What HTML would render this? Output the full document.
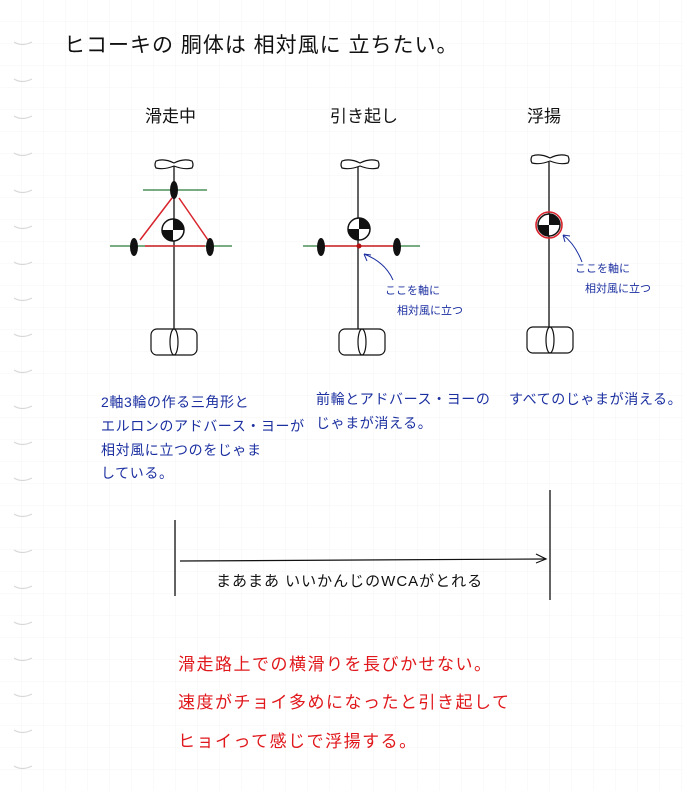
<!DOCTYPE html>
<html><head><meta charset="utf-8"><style>
html,body{margin:0;padding:0;background:#fff}
svg{display:block}
text{font-family:"Liberation Sans","Noto Sans CJK JP",sans-serif}
</style></head><body>
<svg width="683" height="791" viewBox="0 0 683 791" xmlns="http://www.w3.org/2000/svg">
<defs>
<pattern id="g" width="22" height="22" patternUnits="userSpaceOnUse">
<path d="M22 0V22H0" fill="none" stroke="#f5f5f5" stroke-width="1"/>
</pattern>
<g id="cg">
<circle r="11" fill="#fff" stroke="#111" stroke-width="1.5"/>
<path d="M0 0V-11A11 11 0 0 1 11 0Z" fill="#111"/>
<path d="M0 0V11A11 11 0 0 1 -11 0Z" fill="#111"/>
</g>
<g id="prop" fill="#fff" stroke="#111" stroke-width="1.2">
<path d="M-18 -4Q-10 -7 0 -2Q10 -7 18 -4Q20 0 18 3Q10 5 0 1Q-10 5 -18 3Q-20 0 -18 -4Z"/>
</g>
<g id="tail" fill="#fff" stroke="#111" stroke-width="1.2">
<rect x="-23" y="-13" width="46" height="26" rx="6"/>
<ellipse cx="0" cy="0" rx="4" ry="13"/>
</g>
</defs>
<rect width="683" height="791" fill="url(#g)"/>
<g fill="none" stroke="#d8d8d8" stroke-width="1.2">
<path d="M14 42q8 5 18 0M14 79q8 5 18 0M14 116q8 5 18 0M14 153q8 5 18 0M14 190q8 5 18 0M14 226q8 5 18 0M14 262q8 5 18 0M14 298q8 5 18 0M14 334q8 5 18 0M14 370q8 5 18 0M14 406q8 5 18 0M14 442q8 5 18 0M14 478q8 5 18 0M14 514q8 5 18 0M14 550q8 5 18 0M14 586q8 5 18 0M14 622q8 5 18 0M14 658q8 5 18 0M14 694q8 5 18 0M14 730q8 5 18 0M14 766q8 5 18 0"/>
</g>

<text x="64" y="52" font-size="21" fill="#111" letter-spacing="1">ヒコーキの 胴体は 相対風に 立ちたい。</text>
<text x="145" y="122" font-size="17" fill="#111">滑走中</text>
<text x="330" y="122" font-size="17" fill="#111">引き起し</text>
<text x="527" y="122" font-size="17" fill="#111">浮揚</text>

<!-- diagram 1 -->
<g>
<line x1="174" y1="166" x2="174" y2="340" stroke="#111" stroke-width="1.3"/>
<line x1="143" y1="190" x2="207" y2="190" stroke="#2a7a3a" stroke-width="1.2"/>
<line x1="110" y1="246" x2="232" y2="246" stroke="#2a7a3a" stroke-width="1.2"/>
<path d="M140 240L172 198M179 198L208 240M145 246H205" stroke="#d8242c" stroke-width="1.5" fill="none"/>
<ellipse cx="174" cy="190" rx="4" ry="9" fill="#111"/>
<ellipse cx="134" cy="247" rx="4" ry="9" fill="#111"/>
<ellipse cx="210" cy="247" rx="4" ry="9" fill="#111"/>
<use href="#cg" x="173" y="230"/>
<use href="#prop" x="174" y="165"/>
<use href="#tail" x="174" y="342"/>
</g>
<!-- diagram 2 -->
<g>
<line x1="358" y1="166" x2="358" y2="340" stroke="#111" stroke-width="1.3"/>
<line x1="303" y1="246" x2="420" y2="246" stroke="#2a7a3a" stroke-width="1.2"/>
<line x1="322" y1="246" x2="395" y2="246" stroke="#d8242c" stroke-width="1.5"/>
<circle cx="359" cy="246" r="2.5" fill="#b01010"/>
<ellipse cx="321" cy="247" rx="4" ry="9" fill="#111"/>
<ellipse cx="397" cy="247" rx="4" ry="9" fill="#111"/>
<use href="#cg" x="359" y="229"/>
<use href="#prop" x="360" y="165"/>
<use href="#tail" x="362" y="342"/>
<path d="M393 280Q385 262 364 254M364 254l3 7M364 254l7 1" stroke="#1b2fa0" stroke-width="1" fill="none"/>
<text x="385" y="294" font-size="11" fill="#1b2fa0">ここを軸に</text>
<text x="397" y="314" font-size="11" fill="#1b2fa0">相対風に立つ</text>
</g>
<!-- diagram 3 -->
<g>
<line x1="549" y1="162" x2="549" y2="340" stroke="#111" stroke-width="1.3"/>
<use href="#cg" x="549" y="225"/>
<circle cx="549" cy="225" r="13" fill="none" stroke="#d8242c" stroke-width="1.6"/>
<use href="#prop" x="550" y="160"/>
<use href="#tail" x="550" y="340"/>
<path d="M582 262Q575 244 563 235M563 235l2 7M563 235l7 1" stroke="#1b2fa0" stroke-width="1" fill="none"/>
<text x="575" y="272" font-size="11" fill="#1b2fa0">ここを軸に</text>
<text x="585" y="292" font-size="11" fill="#1b2fa0">相対風に立つ</text>
</g>

<g font-size="14" fill="#1b2fa0" letter-spacing="0.6">
<text x="101" y="407">2軸3輪の作る三角形と</text>
<text x="101" y="431">エルロンのアドバース・ヨーが</text>
<text x="101" y="455">相対風に立つのをじゃま</text>
<text x="101" y="478">している。</text>
<text x="316" y="404">前輪とアドバース・ヨーの</text>
<text x="316" y="428">じゃまが消える。</text>
<text x="509" y="404">すべてのじゃまが消える。</text>
</g>

<line x1="175" y1="520" x2="175" y2="596" stroke="#111" stroke-width="1.3"/>
<line x1="550" y1="490" x2="550" y2="600" stroke="#111" stroke-width="1.3"/>
<line x1="180" y1="561" x2="546" y2="559" stroke="#111" stroke-width="1.2"/>
<path d="M536 554L546 559L536 563" stroke="#111" stroke-width="1.2" fill="none"/>
<text x="216" y="586" font-size="15" fill="#111" letter-spacing="1">まあまあ いいかんじのWCAがとれる</text>

<g font-size="17" fill="#e0181c" letter-spacing="1.5">
<text x="178" y="670">滑走路上での横滑りを長びかせない。</text>
<text x="178" y="708">速度がチョイ多めになったと引き起して</text>
<text x="178" y="747">ヒョイって感じで浮揚する。</text>
</g>
</svg>
</body></html>
